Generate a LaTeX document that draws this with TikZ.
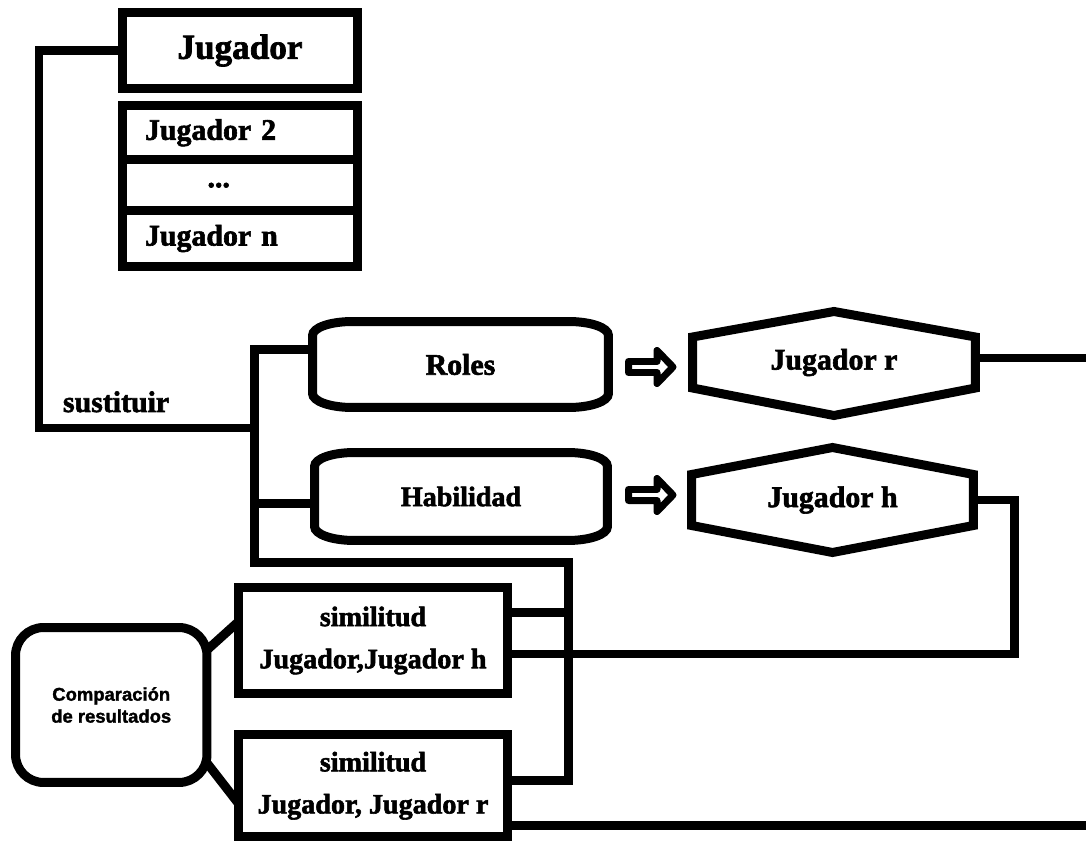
\documentclass[tikz,border=0pt]{standalone}
\usepackage{fontspec}
\setmainfont{Liberation Serif}[BoldFeatures={FakeBold=2}]
\newfontfamily\cmpfont{Liberation Sans}[BoldFeatures={FakeBold=1.5}]
\usetikzlibrary{positioning,calc}

\begin{document}
\begin{tikzpicture}[x=0.02cm,y=-0.02cm,line width=0.18cm]
  \tikzstyle{every node}=[outer sep=0pt,inner sep=0pt]
  \tikzstyle{box}=[draw,rectangle,minimum width=4.7cm]
  \tikzstyle{cell}=[box,text width=3.8cm,align=left,font=\fontsize{17}{20}\selectfont\bfseries]
  \tikzstyle{pill}=[minimum height=1.72cm,font=\fontsize{17}{20}\selectfont\bfseries]
  \tikzstyle{hexa}=[minimum height=1.02cm,font=\fontsize{17}{20}\selectfont\bfseries]
  \tikzstyle{simbox}=[draw,minimum width=5.4cm,align=center,font=\fontsize{16}{24}\selectfont\bfseries]
  \useasboundingbox (0,0) rectangle (1086,841);
  \fill[white] (0,0) rectangle (1086,841);

  %--- player list ---
  \node[box,minimum height=1.52cm,font=\fontsize{20}{24}\selectfont\bfseries] (jug) at (240,50.5) {Jugador};
  \node[cell,minimum height=1.09cm] (j2) at (240,132.75) {Jugador 2};
  \node[cell,minimum height=1.01cm] (dots) [below=0pt of j2] {\hspace*{1.25cm}...};
  \node[cell,minimum height=1.12cm] (jn) [below=0pt of dots] {Jugador n};
  \node[anchor=base west,font=\fontsize{17}{20}\selectfont\bfseries] (sust) at (63,412) {sustituir};

  %--- criteria and chosen players ---
  \node[pill,minimum width=5.92cm] (roles) at (460.5,364.5) {Roles};
  \node[pill,minimum width=5.86cm,minimum height=1.76cm,font=\fontsize{16}{20}\selectfont\bfseries] (hab) at (461,496.5) {Habilidad};
  \node[hexa,minimum width=5.66cm] (jr) at (834,362.5) {Jugador r};
  \node[hexa,minimum width=5.64cm] (jh) at (832.5,500) {Jugador h};

  \foreach \p in {roles,hab}
    \draw ($(\p.north west)+(40,0)$) -- ($(\p.north east)+(-40,0)$)
      .. controls +(22,0) and +(0,-8) .. ($(\p.north east)+(0,14)$)
      -- ($(\p.south east)+(0,-14)$)
      .. controls +(0,8) and +(22,0) .. ($(\p.south east)+(-40,0)$)
      -- ($(\p.south west)+(40,0)$)
      .. controls +(-22,0) and +(0,8) .. ($(\p.south west)+(0,-14)$)
      -- ($(\p.north west)+(0,14)$)
      .. controls +(0,-8) and +(-22,0) .. ($(\p.north west)+(40,0)$) -- cycle;

  \foreach \h/\a/\b in {jr/25.5/27.5, jh/27/27}
    \draw (\h.north west) -- ($(\h.north)+(0,-\a)$) -- (\h.north east)
      -- (\h.south east) -- ($(\h.south)+(0,\b)$) -- (\h.south west) -- cycle;

  % block arrows
  \foreach \y in {367,495}
    \draw[line width=0.14cm,line join=round] (628.5,\y-5.5) -- (657,\y-5.5) -- (657,\y-16.5)
      -- (673,\y) -- (657,\y+16.5) -- (657,\y+5.5) -- (628.5,\y+5.5) -- cycle;

  %--- comparison ---
  \node[draw,rounded corners=0.56cm,minimum width=3.83cm,minimum height=3.1cm,align=center,
        font=\cmpfont\fontsize{10.5}{12.5}\selectfont\bfseries] (comp) at (111.25,705) {Comparación\\de resultados};
  \node[simbox,minimum height=2.14cm] (simh) at (373,640.5) {similitud\\Jugador,Jugador h};
  \node[simbox,minimum height=2.03cm] (simr) [below=0.82cm of simh] {similitud\\Jugador, Jugador r};

  %--- connectors ---
  \coordinate (sw) at (39,428);
  \coordinate (bk) at (254,428);
  \coordinate (bl) at (254,562);
  \coordinate (br) at (568,562);
  \draw (jug.west) -| (sw) -- (bk);
  \draw ([yshift=.31cm]roles.west) -| (bl) -- (br) |- ([yshift=.095cm]simr.east);
  \coordinate (hj) at ([yshift=-.15cm]hab.west);
  \draw (hj) -- (hj -| bl);
  \coordinate (s1) at ([yshift=.57cm]simh.east);
  \draw (s1) -- (s1 -| br);
  \draw (jh.east) -- ++(41.5,0) |- ([yshift=-.27cm]simh.east);
  \draw ([yshift=.09cm]jr.east) -- ++(117,0) |- ([yshift=-.805cm]simr.east);
  \draw ([yshift=1.1cm]comp.east) -- ([yshift=.37cm]simh.west);
  \draw ([yshift=-1.16cm]comp.east) -- ([yshift=-.345cm]simr.west);
\end{tikzpicture}
\end{document}
